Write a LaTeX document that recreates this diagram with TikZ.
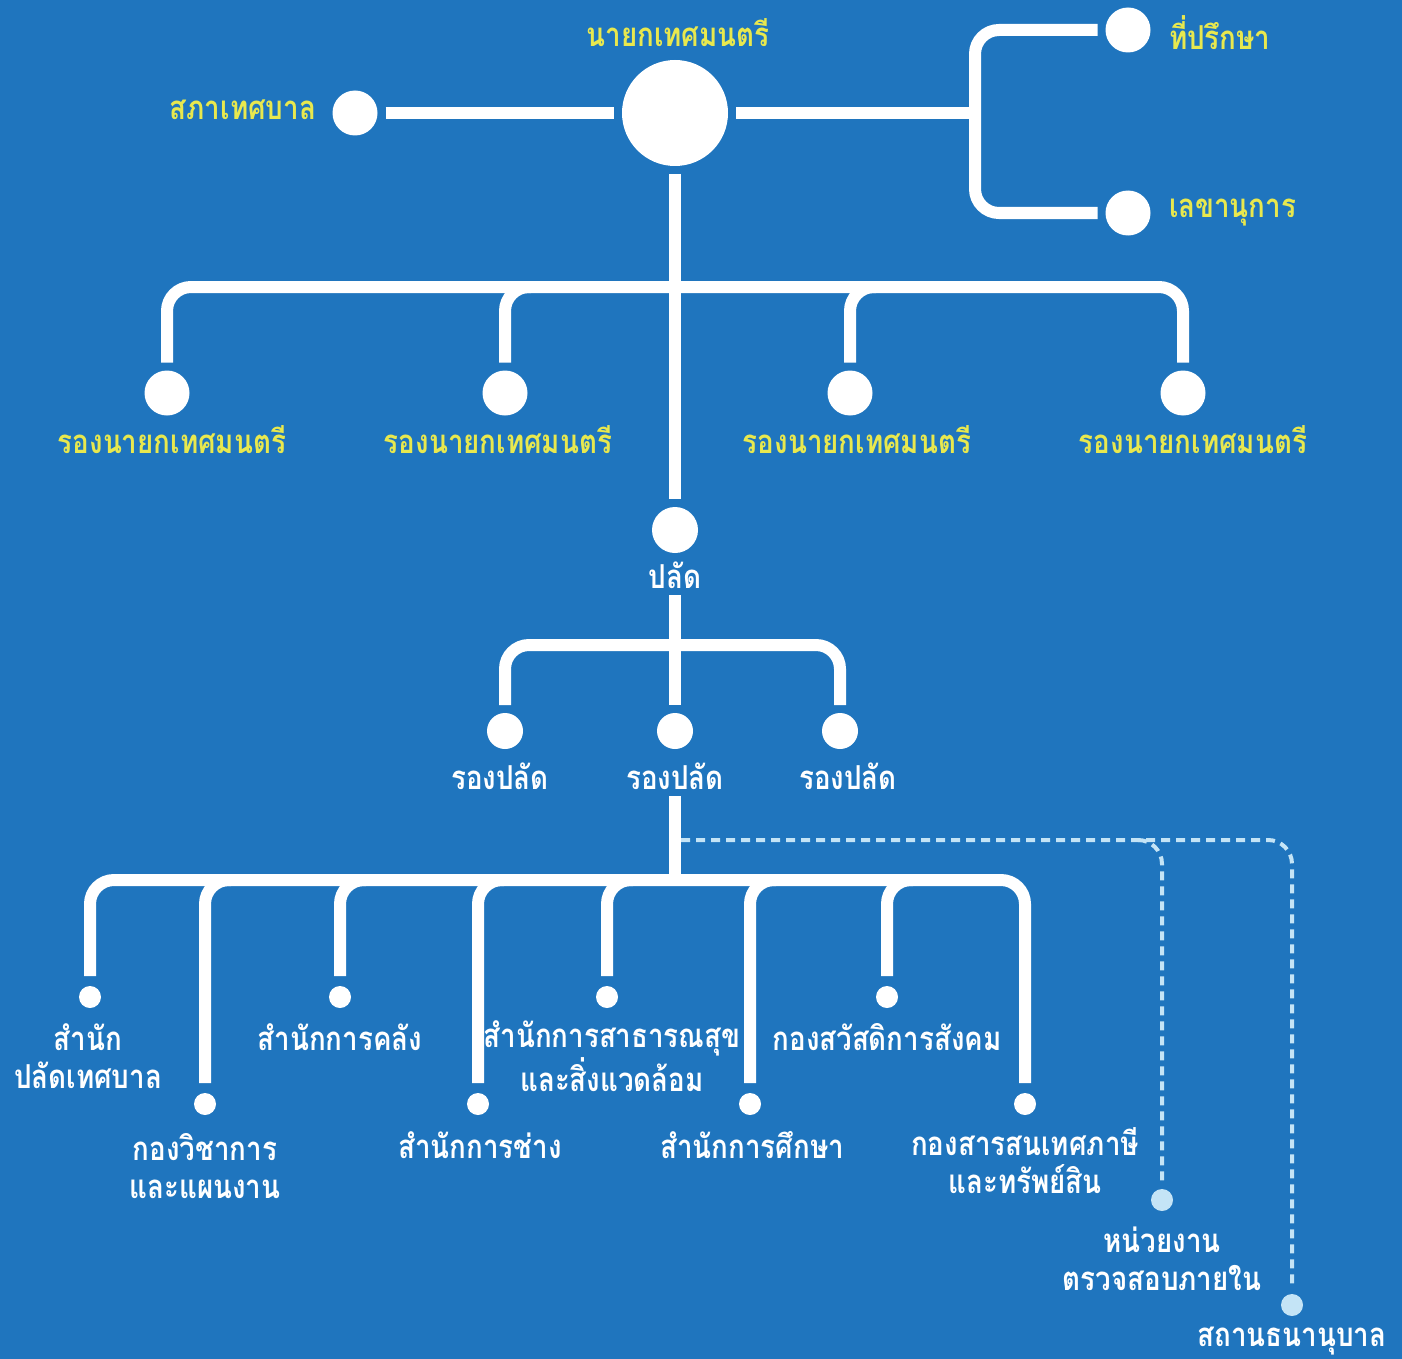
\documentclass[tikz,border=0pt]{standalone}
\usepackage{fontspec}
\usepackage{tikz}
\usetikzlibrary{calc}
\newfontfamily\thai[Script=Thai,FakeStretch=0.84]{Loma}
\definecolor{bgblue}{RGB}{31,117,190}
\definecolor{ylw}{RGB}{232,232,78}
\definecolor{pale}{RGB}{196,228,246}

\tikzset{
  bar/.style={draw=white, line width=12pt, rounded corners=24pt},
  dashline/.style={draw=pale, line width=4pt, dash pattern=on 9pt off 6pt, rounded corners=24pt},
  dot/.style={circle, fill=white, inner sep=0pt, minimum size=#1, outer sep=8pt},
  pdot/.style={circle, fill=pale, inner sep=0pt, minimum size=#1, outer sep=8pt},
  lbl/.style={font=\thai\bfseries\fontsize{33}{38}\selectfont, text=white, align=center, inner sep=0pt, outer sep=7pt},
  ylbl/.style={lbl, text=ylw},
}

\begin{document}
\begin{tikzpicture}[x=1pt, y=-1pt]
    \fill[bgblue] (0,0) rectangle (1402,1359);
    \useasboundingbox (0,0) rectangle (1402,1359);
    % circles
    \node[dot=106] (nayok) at (675,113) {};
    \node[dot=45] (sapha) at (355,113) {};
    \node[dot=45] (tp) at (1128,30) {};
    \node[dot=45] (lk) at (1128,213) {};
    \node[dot=46] (palad) at (675,530) {};
    \foreach \x/\n in {167/vn1, 505/vn2, 850/vn3, 1183/vn4}
      \node[dot=45] (\n) at (\x,393) {};
    \foreach \x/\n in {505/rp1, 675/rp2, 840/rp3}
      \node[dot=36] (\n) at (\x,731) {};
    \foreach \x/\y/\n in {90/997/b1, 205/1104/b2, 340/997/b3, 478/1104/b4, 607/997/b5, 750/1104/b6, 887/997/b7, 1025/1104/b8}
      \node[dot=22, outer sep=10pt] (\n) at (\x,\y) {};
    \node[pdot=22] (audit) at (1162,1200) {};
    \node[pdot=22] (sthan) at (1292,1305) {};
    \coordinate (brk) at (975,113);
    \coordinate (top) at (675,287);
    \coordinate (mid) at (675,645);
    \coordinate (low) at (675,880);
    \coordinate (dsh) at (681,840);

    % labels
    \node[ylbl] (t-nayok) at (678,33) {นายกเทศมนตรี};
    \node[ylbl, anchor=east] (t-sapha) at (323,110) {สภาเทศบาล};
    \node[ylbl, anchor=west] (t-tp) at (1162,33) {ที่ปรึกษา};
    \node[ylbl, anchor=west] (t-lk) at (1162,213) {เลขานุการ};
    \foreach \x/\n in {172/vn1, 498/vn2, 857/vn3, 1193/vn4}
      \node[ylbl] (t-\n) at (\x,440) {รองนายกเทศมนตรี};
    \node[lbl] (t-palad) at (675,575) {ปลัด};
    \foreach \x/\n in {500/rp1, 675/rp2, 848/rp3}
      \node[lbl] (t-\n) at (\x,776) {รองปลัด};
    \node[lbl] (t-b1) at (88,1056) {สำนัก\\ปลัดเทศบาล};
    \node[lbl] (t-b2) at (205,1166) {กองวิชาการ\\และแผนงาน};
    \node[lbl] (t-b3) at (340,1037) {สำนักการคลัง};
    \node[lbl] (t-b4) at (480,1145) {สำนักการช่าง};
    \node[lbl] (t-b5) at (612,1056) {สำนักการสาธารณสุข\\และสิ่งแวดล้อม};
    \node[lbl] (t-b6) at (752,1145) {สำนักการศึกษา};
    \node[lbl] (t-b7) at (887,1037) {กองสวัสดิการสังคม};
    \node[lbl] (t-b8) at (1025,1161) {กองสารสนเทศภาษี\\และทรัพย์สิน};
    \node[lbl] (t-audit) at (1162,1259) {หน่วยงาน\\ตรวจสอบภายใน};
    \node[lbl] (t-sthan) at (1292,1341) {สถานธนานุบาล};

    % mayor level
    \draw[bar] (sapha) -- (nayok);
    \draw[bar] (nayok) -- (brk);
    \draw[bar] (tp) -| (brk) |- (lk);
    \draw[bar] (nayok) -- (palad);
    \draw[bar] (vn1) -- (vn1 |- top) -- (vn4 |- top) -- (vn4);
    \draw[bar] (vn2) |- ($(vn2 |- top)+(26,0)$);
    \draw[bar] (vn3) |- ($(vn3 |- top)+(26,0)$);
    % deputy clerk level
    \draw[bar] (t-palad) -- (rp2);
    \draw[bar] (rp1) -- (rp1 |- mid) -- (rp3 |- mid) -- (rp3);
    % divisions
    \draw[bar] (t-rp2) -- (low);
    \draw[bar] (b1) -- (b1 |- low) -- (b8 |- low) -- (b8);
    \foreach \n in {b2,b3,b4,b5,b6,b7}
      \draw[bar] (\n) |- ($(\n |- low)+(26,0)$);
    \draw[dashline] (dsh) -| (sthan);
    \draw[dashline] ($(audit |- dsh)+(-24,0)$) -| (audit);
\end{tikzpicture}
\end{document}
